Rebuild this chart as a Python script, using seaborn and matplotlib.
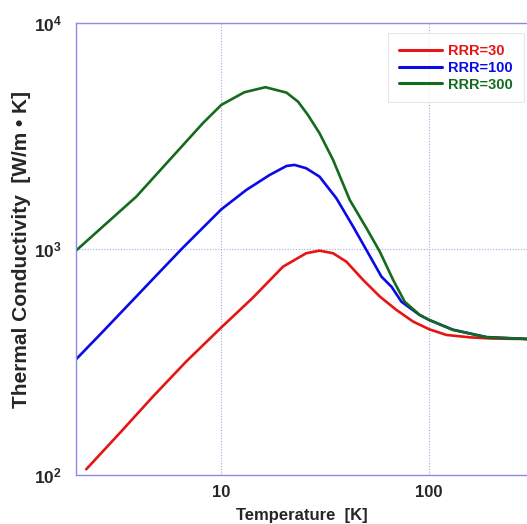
import matplotlib
matplotlib.use("Agg")
import matplotlib.pyplot as plt
import seaborn as sns
import pandas as pd

# ---- data ----
temp_rrr30 = [2.24, 3.24, 4.68, 6.78, 10, 14.2, 19.8, 25.6, 29.7, 34.5, 40, 48.1, 57.9, 69.6, 83.7, 100, 121, 157, 200, 300]
k_rrr30 = [106, 153, 222, 318, 450, 610, 836, 959, 985, 959, 880, 731, 617, 538, 478, 442, 417, 407, 402, 400]

temp_rrr100 = [2, 2.69, 3.9, 4.68, 6.5, 10, 13.2, 17.1, 20.6, 22.5, 25.6, 29.7, 35.8, 43.1, 49.9, 59, 65.9, 73.6, 90, 100, 130, 189, 300]
k_rrr100 = [325, 431, 617, 736, 1010, 1500, 1829, 2131, 2335, 2360, 2282, 2094, 1679, 1258, 992, 755, 682, 585, 511, 486, 440, 408, 400]

temp_rrr300 = [2, 2.69, 3.9, 5.64, 8.15, 10, 12.9, 16.3, 20.6, 23.4, 26.1, 29.7, 34.5, 41.5, 49.9, 57.9, 67.1, 76.3, 90.2, 100, 130, 189, 300]
k_rrr300 = [985, 1258, 1708, 2484, 3610, 4351, 4950, 5212, 4933, 4498, 3930, 3260, 2484, 1652, 1240, 975, 731, 585, 511, 486, 439, 407, 400]

series_names = ["RRR=30", "RRR=100", "RRR=300"]
series_colors = ["#e61414", "#0a0ae6", "#146b1e"]
x_ticks = [10, 100]
x_tick_labels = ["10", "100"]
y_ticks = [100, 1000, 10000]
y_tick_labels = [r"$\mathbf{10^{2}}$", r"$\mathbf{10^{3}}$", r"$\mathbf{10^{4}}$"]

frames = []
for name, t, k in zip(series_names, [temp_rrr30, temp_rrr100, temp_rrr300],
                      [k_rrr30, k_rrr100, k_rrr300]):
    frames.append(pd.DataFrame({"T": t, "k": k, "RRR": name}))
df = pd.concat(frames, ignore_index=True)

sns.set_style("white")
plt.rcParams["font.family"] = ["Liberation Sans", "DejaVu Sans"]
plt.rcParams["mathtext.fontset"] = "custom"
plt.rcParams["mathtext.rm"] = "Liberation Sans"
plt.rcParams["mathtext.bf"] = "Liberation Sans:bold"

fig = plt.figure(figsize=(5.27, 5.24), dpi=100)
W, H = 527, 524
left, right, top, bottom = 76, 528.3, 23.3, 475
ax = fig.add_axes([left / W, 1 - bottom / H, (right - left) / W, (bottom - top) / H])

sns.lineplot(data=df, x="T", y="k", hue="RRR", palette=dict(zip(series_names, series_colors)),
             hue_order=series_names, estimator=None, sort=False, linewidth=1.9, ax=ax)

ax.set_xscale("log")
ax.set_yscale("log")
ax.set_xlim(2, 300)
ax.set_ylim(100, 10000)
ax.set_xticks(x_ticks)
ax.set_xticklabels(x_tick_labels, fontsize=12, fontweight="bold")
ax.set_yticks(y_ticks)
ax.set_yticklabels(y_tick_labels, fontsize=12.5)
ax.minorticks_off()
ax.tick_params(axis="x", length=0, pad=7)
ax.tick_params(axis="y", length=0, pad=10)

grid_color = "#a8a8e6"
ax.grid(True, which="major", linestyle=(0, (1, 1.5)), color=grid_color, linewidth=0.8)
for s in ax.spines.values():
    s.set_color("#8c8ce6")
    s.set_linewidth(1.0)

ax.set_xlabel("Temperature  [K]", fontsize=12, fontweight="bold", labelpad=6)
ax.set_ylabel("Thermal Conductivity  [W/m \u2022 K]", fontsize=15, fontweight="bold")
ax.yaxis.set_label_coords(-0.1, 0.5)

leg = ax.legend(loc="upper right", bbox_to_anchor=(0.99, 0.979), borderaxespad=0,
                fancybox=False, frameon=True, prop={"weight": "bold", "size": 10.5},
                handlelength=2.9, handletextpad=0.45, labelspacing=0.2,
                borderpad=0.75, title=None)
leg.get_frame().set_edgecolor("#e2e2e2")
leg.get_frame().set_linewidth(0.8)
for txt, col in zip(leg.get_texts(), series_colors):
    txt.set_color(col)
for line in leg.get_lines():
    line.set_linewidth(2.2)

fig.savefig("out.png", dpi=100)
